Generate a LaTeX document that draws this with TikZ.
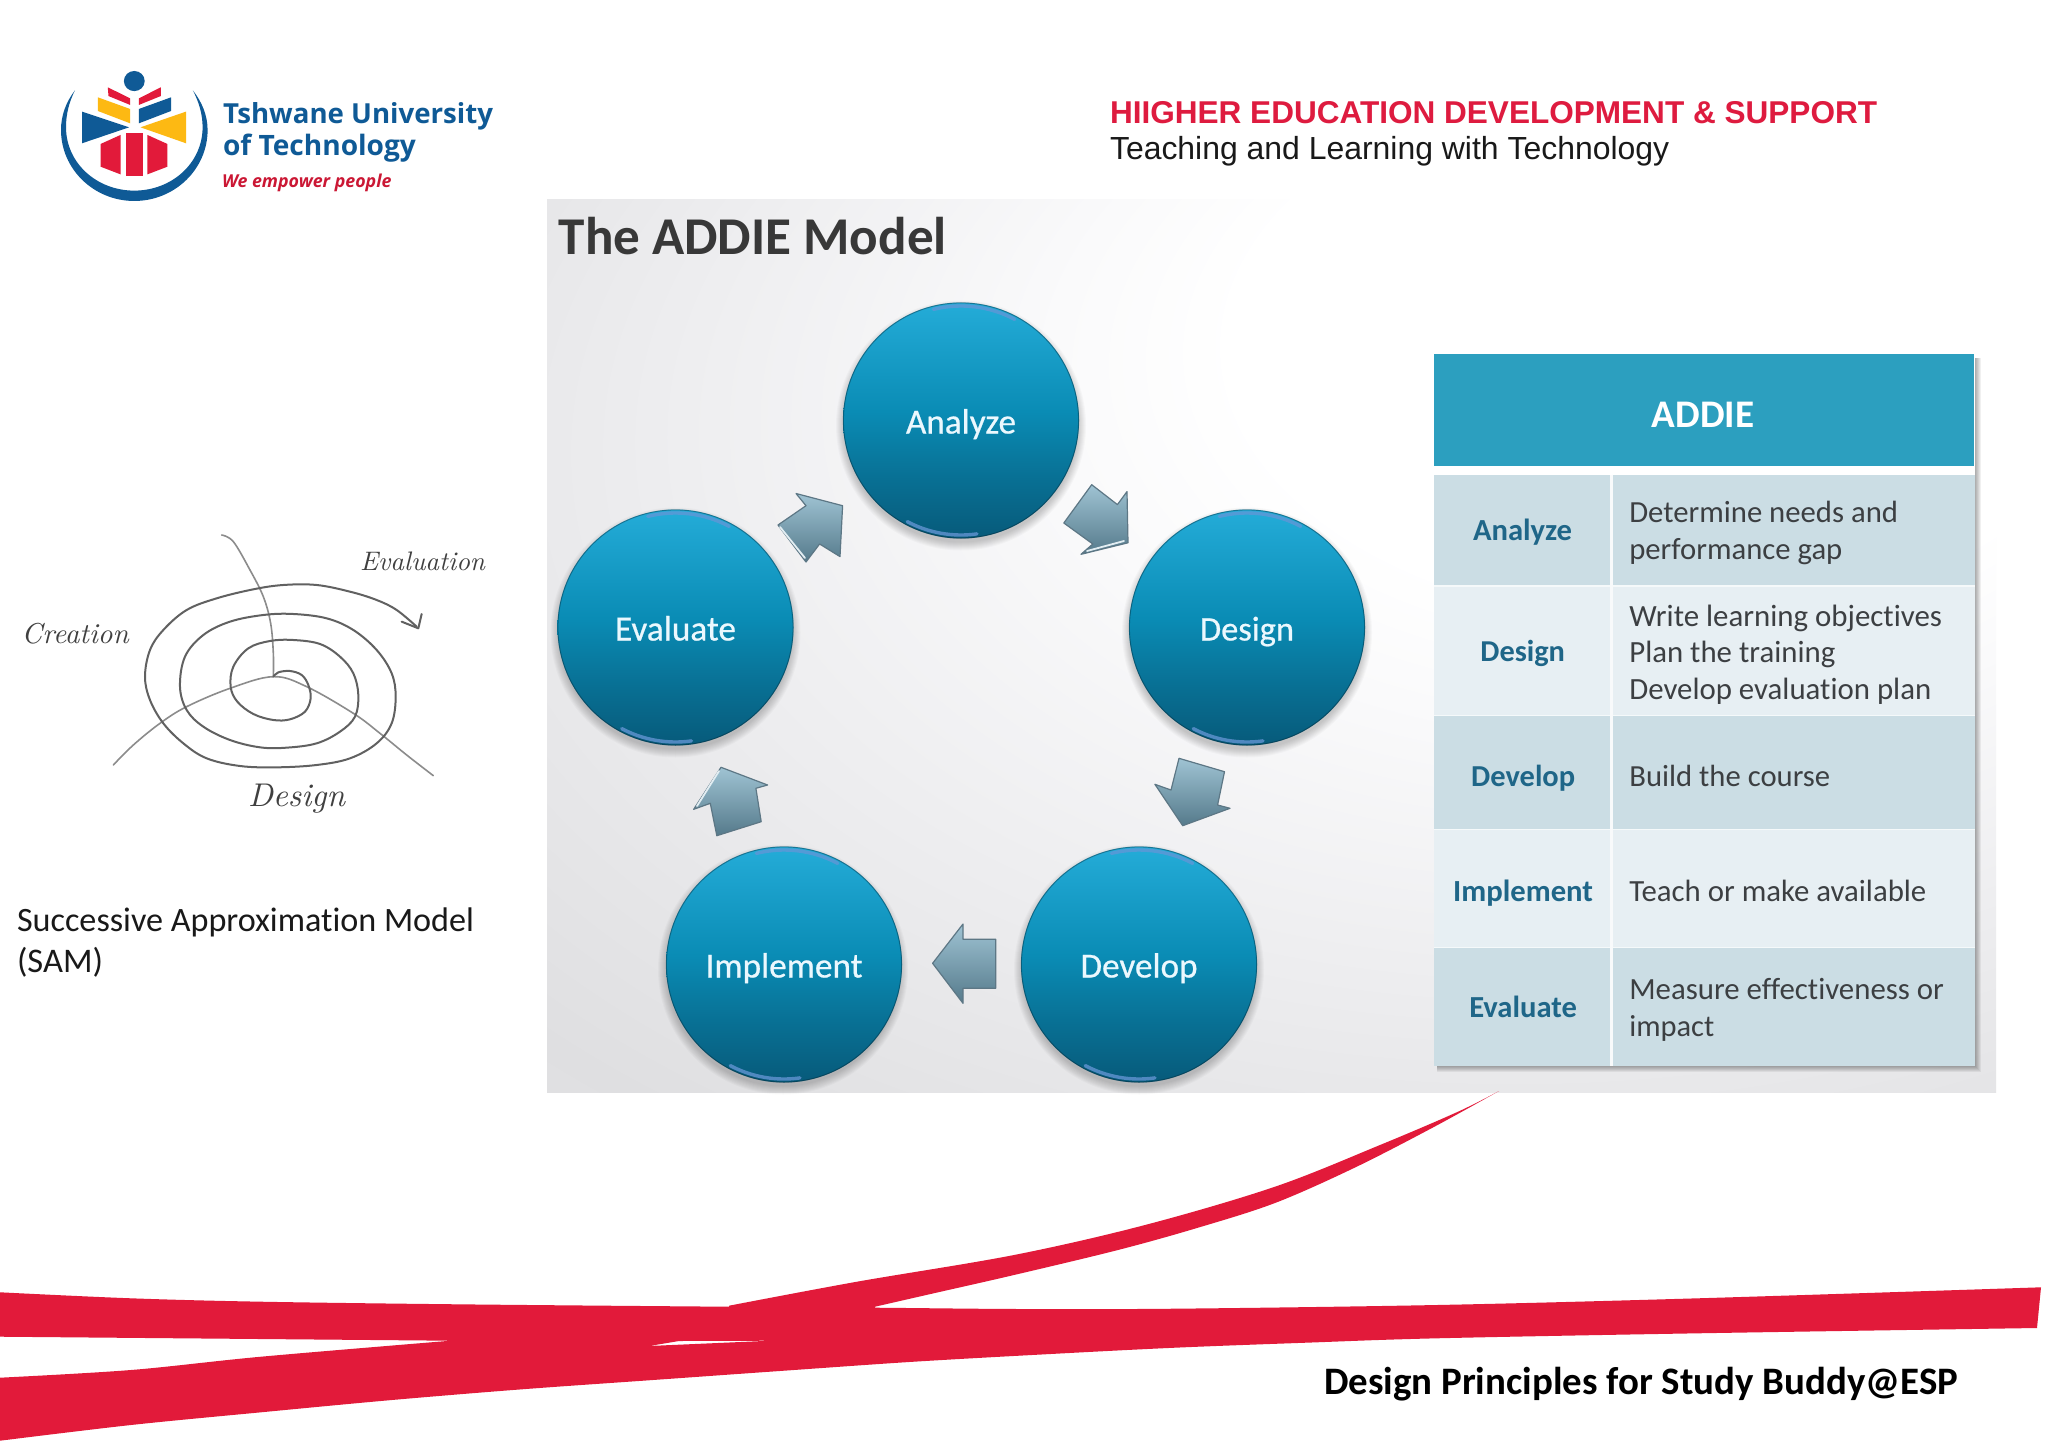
\documentclass[tikz,border=0pt]{standalone}
\usepackage{fontspec}
\usepackage{graphicx}
\setmainfont[Ligatures=NoCommon]{Carlito}
\newfontfamily\ballfont[FakeBold=0.6,Ligatures=NoCommon]{Carlito}
\newfontfamily\logofont{Open Sans}
\newfontfamily\headfont{Liberation Sans}
\newfontfamily\handfont{Latin Modern Roman}
\usetikzlibrary{calc}
\definecolor{tutblue}{HTML}{0F5A96}
\definecolor{tutred}{HTML}{E21A3A}
\definecolor{tutyellow}{HTML}{FDB913}
\definecolor{headred}{HTML}{DE1B3F}
\definecolor{rowdark}{HTML}{CBDDE4}
\definecolor{rowlight}{HTML}{E7EFF3}
\definecolor{headteal}{HTML}{2C9FBF}
\definecolor{coltext}{HTML}{1F6688}
\definecolor{bodytext}{HTML}{3C3F42}
\definecolor{balltop}{HTML}{24ACD8}
\definecolor{ballmid}{HTML}{0A8CB5}
\definecolor{ballbot}{HTML}{075A7A}
\definecolor{pb}{HTML}{FAFAFB}
\definecolor{pc}{HTML}{EEEEF0}
\definecolor{pd}{HTML}{DFDFE1}
\definecolor{pe}{HTML}{E4E4E6}
\definecolor{pf}{HTML}{E8E8EA}
\definecolor{arrowbot}{HTML}{557A8B}
\definecolor{arrowedge}{HTML}{5D7785}
\definecolor{arrowtop}{HTML}{9FC3D3}
\pgfdeclareverticalshading{ballshade}{100bp}{color(0bp)=(ballbot); color(25bp)=(ballbot); color(38bp)=(ballbot!55!ballmid); color(52bp)=(ballmid); color(75bp)=(balltop); color(100bp)=(balltop)}
\pgfdeclareradialshading{panelbg}{\pgfpoint{18bp}{22bp}}{color(0bp)=(white); color(15bp)=(white); color(20bp)=(pb); color(30bp)=(pc); color(43bp)=(pd); color(48bp)=(pe); color(65bp)=(pf)}
\newcommand\fitw[2]{\resizebox{#1pt}{!}{#2}}
\tikzset{
  txt/.style={anchor=base west,inner sep=0pt,outer sep=0pt},
  stage/.style={circle,minimum size=236pt,inner sep=0pt,shading=ballshade,text=white!92!cyan,text height=26pt,text depth=0pt},
  blockarr/.style={top color=arrowtop,bottom color=arrowbot,draw=arrowedge,line width=1.2pt,line join=round},
  arrowlight/.style={draw=white!70!arrowtop,line width=1.8pt,line cap=round},
  thinpen/.style={draw=black!45,line width=1.6pt,line cap=round,line join=round},
  spiralpen/.style={draw=black!62,line width=2pt,line cap=round,line join=round},
}
\newcommand\ballglow[2]{%
  \foreach \i in {1,...,9}{\fill[black,opacity=.024] (#1,#2+5) circle ({116+\i});}}
\newcommand\ballgloss[1]{%
  \begin{scope}[shift={(#1)},y=1pt]
    \draw[white!50!cyan!70!blue,line width=3.4pt,line cap=round,opacity=.8] (62:114.5) arc (62:104:114.5);
    \draw[white!55!cyan!70!blue,line width=3.4pt,line cap=round,opacity=.75] (-118:114.5) arc (-118:-82:114.5);
    \draw[black!60!ballbot,line width=1pt,opacity=.4] (0,0) circle (117.6);
  \end{scope}}
\begin{document}
\begin{tikzpicture}[x=1pt,y=-1pt]
\useasboundingbox (0,0) rectangle (2048,1447);
\fill[white] (0,0) rectangle (2048,1447);

% logo
\begin{scope}[y=-0.968pt,yshift=-1.28pt]
\fill[tutblue] (75,92) .. controls (66,104) and (61,118) .. (61,133)
  .. controls (61,173.5) and (94,206.3) .. (134.3,206.3)
  .. controls (174.6,206.3) and (207.6,173.5) .. (207.6,133)
  .. controls (207.6,118) and (202,104) .. (192.8,92)
  .. controls (199,104) and (202.6,117) .. (202.6,130)
  .. controls (202.6,167) and (172,195.6) .. (134.3,195.6)
  .. controls (96.6,195.6) and (66,167) .. (66,130)
  .. controls (66,117) and (69,104) .. (75,92) -- cycle;
\fill[tutblue] (134.3,82.4) circle (10.4);
\fill[tutred] (107.8,88.9) -- (130.2,100.3) -- (130.2,107.1) -- (108.5,97.9) -- cycle;
\fill[tutred] (160.8,88.9) -- (138.8,100.3) -- (138.8,107.1) -- (160.8,97.9) -- cycle;
\fill[tutyellow] (97.8,99.2) -- (130.2,111.3) -- (130.2,126.1) -- (97.8,113.3) -- cycle;
\fill[tutblue] (171.1,99.2) -- (138.8,111.3) -- (138.8,126.1) -- (171.1,113.3) -- cycle;
\fill[tutblue] (82,114) -- (129.1,130.2) -- (82,146.7) -- cycle;
\fill[tutyellow] (186,114) -- (140.5,130.2) -- (186,146.7) -- cycle;
\fill[tutred] (100.6,147.4) -- (120.5,138.1) -- (120.5,178.8) -- (100.6,170.9) -- cycle;
\fill[tutred] (125.7,136.4) -- (142.9,136.4) -- (142.9,180.2) -- (125.7,180.2) -- cycle;
\fill[tutred] (147.4,138.1) -- (167.4,147.4) -- (167.4,170.9) -- (147.4,178.8) -- cycle;
\end{scope}
\node[txt,text=tutblue] (logoa) at (223,123.5) {\fitw{270}{\logofont\bfseries Tshwane University}};
\node[txt,text=tutblue] (logob) at (223,155.5) {\fitw{193}{\logofont\bfseries of Technology}};
\node[txt,text=tutred!90!black] (logoc) at (222,187.5) {\fitw{169.5}{\logofont\bfseries\itshape We empower people}};

% top right heading
\node[txt,text=headred] (heada) at (1110,124) {\fitw{767}{\headfont\bfseries HIIGHER EDUCATION DEVELOPMENT \& SUPPORT}};
\node[txt,text=black!90] (headb) at (1110,159.5) {\fitw{559}{\headfont Teaching and Learning with Technology}};

% SAM sketch
\begin{scope}[x=0.33333pt,y=-0.33333pt,yshift=-510pt]
  \draw[thinpen] plot[smooth,tension=.6] coordinates {(665,75) (700,95) (750,180) (790,260) (812,340) (820,430) (820,500)};
  \draw[thinpen] plot[smooth,tension=.6] coordinates {(340,765) (400,705) (480,640) (560,590) (690,535) (820,500) (920,530) (1060,610) (1140,670) (1220,735) (1300,797)};
  \draw[spiralpen] plot[smooth,tension=.6] coordinates {(820,500) (835,487) (870,483) (905,495) (925,525) (932,565) (915,605) (870,628) (820,630) (760,612) (712,575) (692,530) (700,470) (745,415) (810,393) (880,390) (960,402) (1020,440) (1060,490) (1075,555) (1065,620) (1020,665) (950,700) (860,713) (780,712) (690,690) (610,650) (560,600) (540,530) (555,440) (610,375) (690,335) (790,315) (880,312) (980,325) (1060,360) (1130,420) (1175,490) (1187,560) (1175,640) (1130,700) (1050,745) (950,765) (830,772) (720,768) (620,745) (550,700) (490,640) (450,570) (435,500) (450,420) (490,360) (560,300) (650,265) (760,238) (850,225) (950,225) (1050,245) (1130,270) (1190,300) (1250,350)};
  \draw[spiralpen] (1205,335) -- (1255,355) -- (1265,312);
\end{scope}
\node[txt,text=black!75] (skevaluation) at (360,570) {\fitw{125}{\handfont\itshape Evaluation}};
\node[txt,text=black!75] (skcreation) at (21.7,643) {\fitw{107}{\handfont\itshape Creation}};
\node[txt,text=black!75] (skdesign) at (248,806) {\fitw{97}{\handfont\itshape Design}};
\node[txt,text=black!90] (sama) at (17,931.5) {\fitw{457}{Successive Approximation Model}};
\node[txt,text=black!90] (samb) at (17,972.5) {\fitw{86}{(SAM)}};

% panel
\fill[shading=panelbg] (547,200) rectangle (1996,1092);
\node[txt,text=black!78] (title) at (558.7,255) {\fitw{388}{\bfseries The ADDIE Model}};

% stages
\ballglow{961}{420.5}\ballglow{1247}{627.5}\ballglow{1139}{964.5}\ballglow{783}{964.5}\ballglow{675.5}{627.5}
\node[stage] (analyze) at (961,420.5) {\fitw{110}{\ballfont Analyze}};
\node[stage] (design) at (1247,627.5) {\fitw{94}{\ballfont Design}};
\node[stage] (develop) at (1139,964.5) {\fitw{117}{\ballfont Develop}};
\node[stage] (implement) at (784,964.5) {\fitw{157}{\ballfont Implement}};
\node[stage] (evaluate) at (675.5,627.5) {\fitw{121}{\ballfont Evaluate}};
\ballgloss{analyze}\ballgloss{design}\ballgloss{develop}\ballgloss{implement}\ballgloss{evaluate}

% block arrows
\draw[blockarr] (1091.7,484.7) -- (1117.4,504.6) -- (1127,491.6) -- (1128,542.8) -- (1081,554.3) -- (1092.8,544) -- (1063.8,523) -- cycle;
\draw[arrowlight] (1087,551) -- (1124,541);
\draw[blockarr] (1179,758.3) -- (1224.5,771.7) -- (1217.6,805) -- (1230,808.3) -- (1182.7,825.7) -- (1154.9,784.3) -- (1171,790) -- cycle;
\draw[blockarr] (995.8,939.3) -- (995.8,988.3) -- (963,988.3) -- (963,1003.3) -- (932.6,963.3) -- (963,924) -- (963,939.3) -- cycle;
\draw[blockarr] (721,767.3) -- (767.6,785) -- (755.9,788.3) -- (761.2,821.7) -- (716.8,835.7) -- (710.3,803.3) -- (693.7,809.3) -- cycle;
\draw[arrowlight] (719,771) -- (697,806);
\draw[blockarr] (796,493.5) -- (842.6,505.7) -- (840,556.6) -- (819.6,544) -- (806,562) -- (778,525) -- (806,505.7) -- cycle;
\draw[arrowlight] (780,527) -- (805,558);

% table shadow
\foreach \i in {1,...,7}{\fill[black,opacity=.06] (1437,358) rectangle ({1974+\i},{1065+\i});}
% table
\fill[white] (1434,354) rectangle (1975,1066);
\fill[headteal] (1434,354) rectangle (1973.7,466);
\fill[rowdark] (1434,474.8) rectangle (1975,585.8);
\fill[rowlight] (1434,585.8) rectangle (1975,715.7);
\fill[rowdark] (1434,715.7) rectangle (1975,829.6);
\fill[rowlight] (1434,829.6) rectangle (1975,947.4);
\fill[rowdark] (1434,947.4) rectangle (1975,1065.6);
\foreach \yy in {585.8,715.7,829.6,947.4}{\draw[white!60!rowlight,line width=1.5pt] (1434,\yy) -- (1975,\yy);}
\draw[white!70!rowlight,line width=3pt] (1611.7,474.8) -- (1611.7,1066);
\node[txt,text=white] (thaddie) at (1651.9,427) {\fitw{102.5}{\bfseries ADDIE}};
\node[txt,text=coltext] (ca) at (1473,540.2) {\fitw{99}{\bfseries Analyze}};
\node[txt,text=coltext] (cb) at (1480.4,661.5) {\fitw{84.6}{\bfseries Design}};
\node[txt,text=coltext] (cc) at (1471.2,786) {\fitw{104}{\bfseries Develop}};
\node[txt,text=coltext] (cd) at (1453.2,901.5) {\fitw{139.8}{\bfseries Implement}};
\node[txt,text=coltext] (ce) at (1469.3,1017.5) {\fitw{107.6}{\bfseries Evaluate}};
\node[txt,text=bodytext] (da) at (1629.3,522.3) {\fitw{268.7}{Determine needs and}};
\node[txt,text=bodytext] (db) at (1629.3,559) {\fitw{213}{performance gap}};
\node[txt,text=bodytext] (dc) at (1629.3,626.5) {\fitw{312.7}{Write learning objectives}};
\node[txt,text=bodytext] (dd) at (1629.3,662.5) {\fitw{206}{Plan the training}};
\node[txt,text=bodytext] (de) at (1629.3,699.7) {\fitw{302}{Develop evaluation plan}};
\node[txt,text=bodytext] (df) at (1629.3,786) {\fitw{200.9}{Build the course}};
\node[txt,text=bodytext] (dg) at (1629.3,901.5) {\fitw{297}{Teach or make available}};
\node[txt,text=bodytext] (dh) at (1629.3,999.5) {\fitw{314.6}{Measure effectiveness or}};
\node[txt,text=bodytext] (di) at (1629.3,1036.6) {\fitw{85}{impact}};

% red swoosh
\fill[tutred] plot[smooth,tension=.55] coordinates {(729,1305.7) (857,1281.7) (1014,1255) (1145,1225) (1275,1186.7) (1380,1145) (1458,1111.7) (1499,1091)}
  -- plot[smooth,tension=.55] coordinates {(1499,1091) (1432,1128) (1354,1168) (1275,1203) (1197,1228) (1118,1250) (1014,1275) (935,1293) (875,1306.7)} -- (875,1315) -- (729,1315) -- cycle;
\fill[tutred,even odd rule] plot[smooth,tension=.55] coordinates {(0,1292.3) (131,1298.3) (261,1301.7) (457,1304.3) (726,1306.7) (875,1307.7) (1019,1309) (1175,1308.7) (1437,1305) (1698,1298.3) (2041,1287.3)}
  -- plot[smooth,tension=.55] coordinates {(2037,1328) (1698,1333.3) (1437,1338.3) (1306,1342.7) (1175,1347.7) (1045,1354.3) (914,1361.7) (784,1370.7) (653,1380) (522,1389.3) (392,1400) (261,1412.3) (131,1425) (0,1440.7)}
  -- plot[smooth,tension=.55] coordinates {(0,1377.7) (131,1370) (261,1356.7) (450.6,1340.7)}
  -- (0,1336.7) -- cycle
  (649,1346) -- (770.5,1340.7) -- (679,1341) -- cycle;
\node[txt,text=black] (foot) at (1324,1394.5) {\fitw{634}{\bfseries Design Principles for Study Buddy@ESP}};
\end{tikzpicture}
\end{document}
